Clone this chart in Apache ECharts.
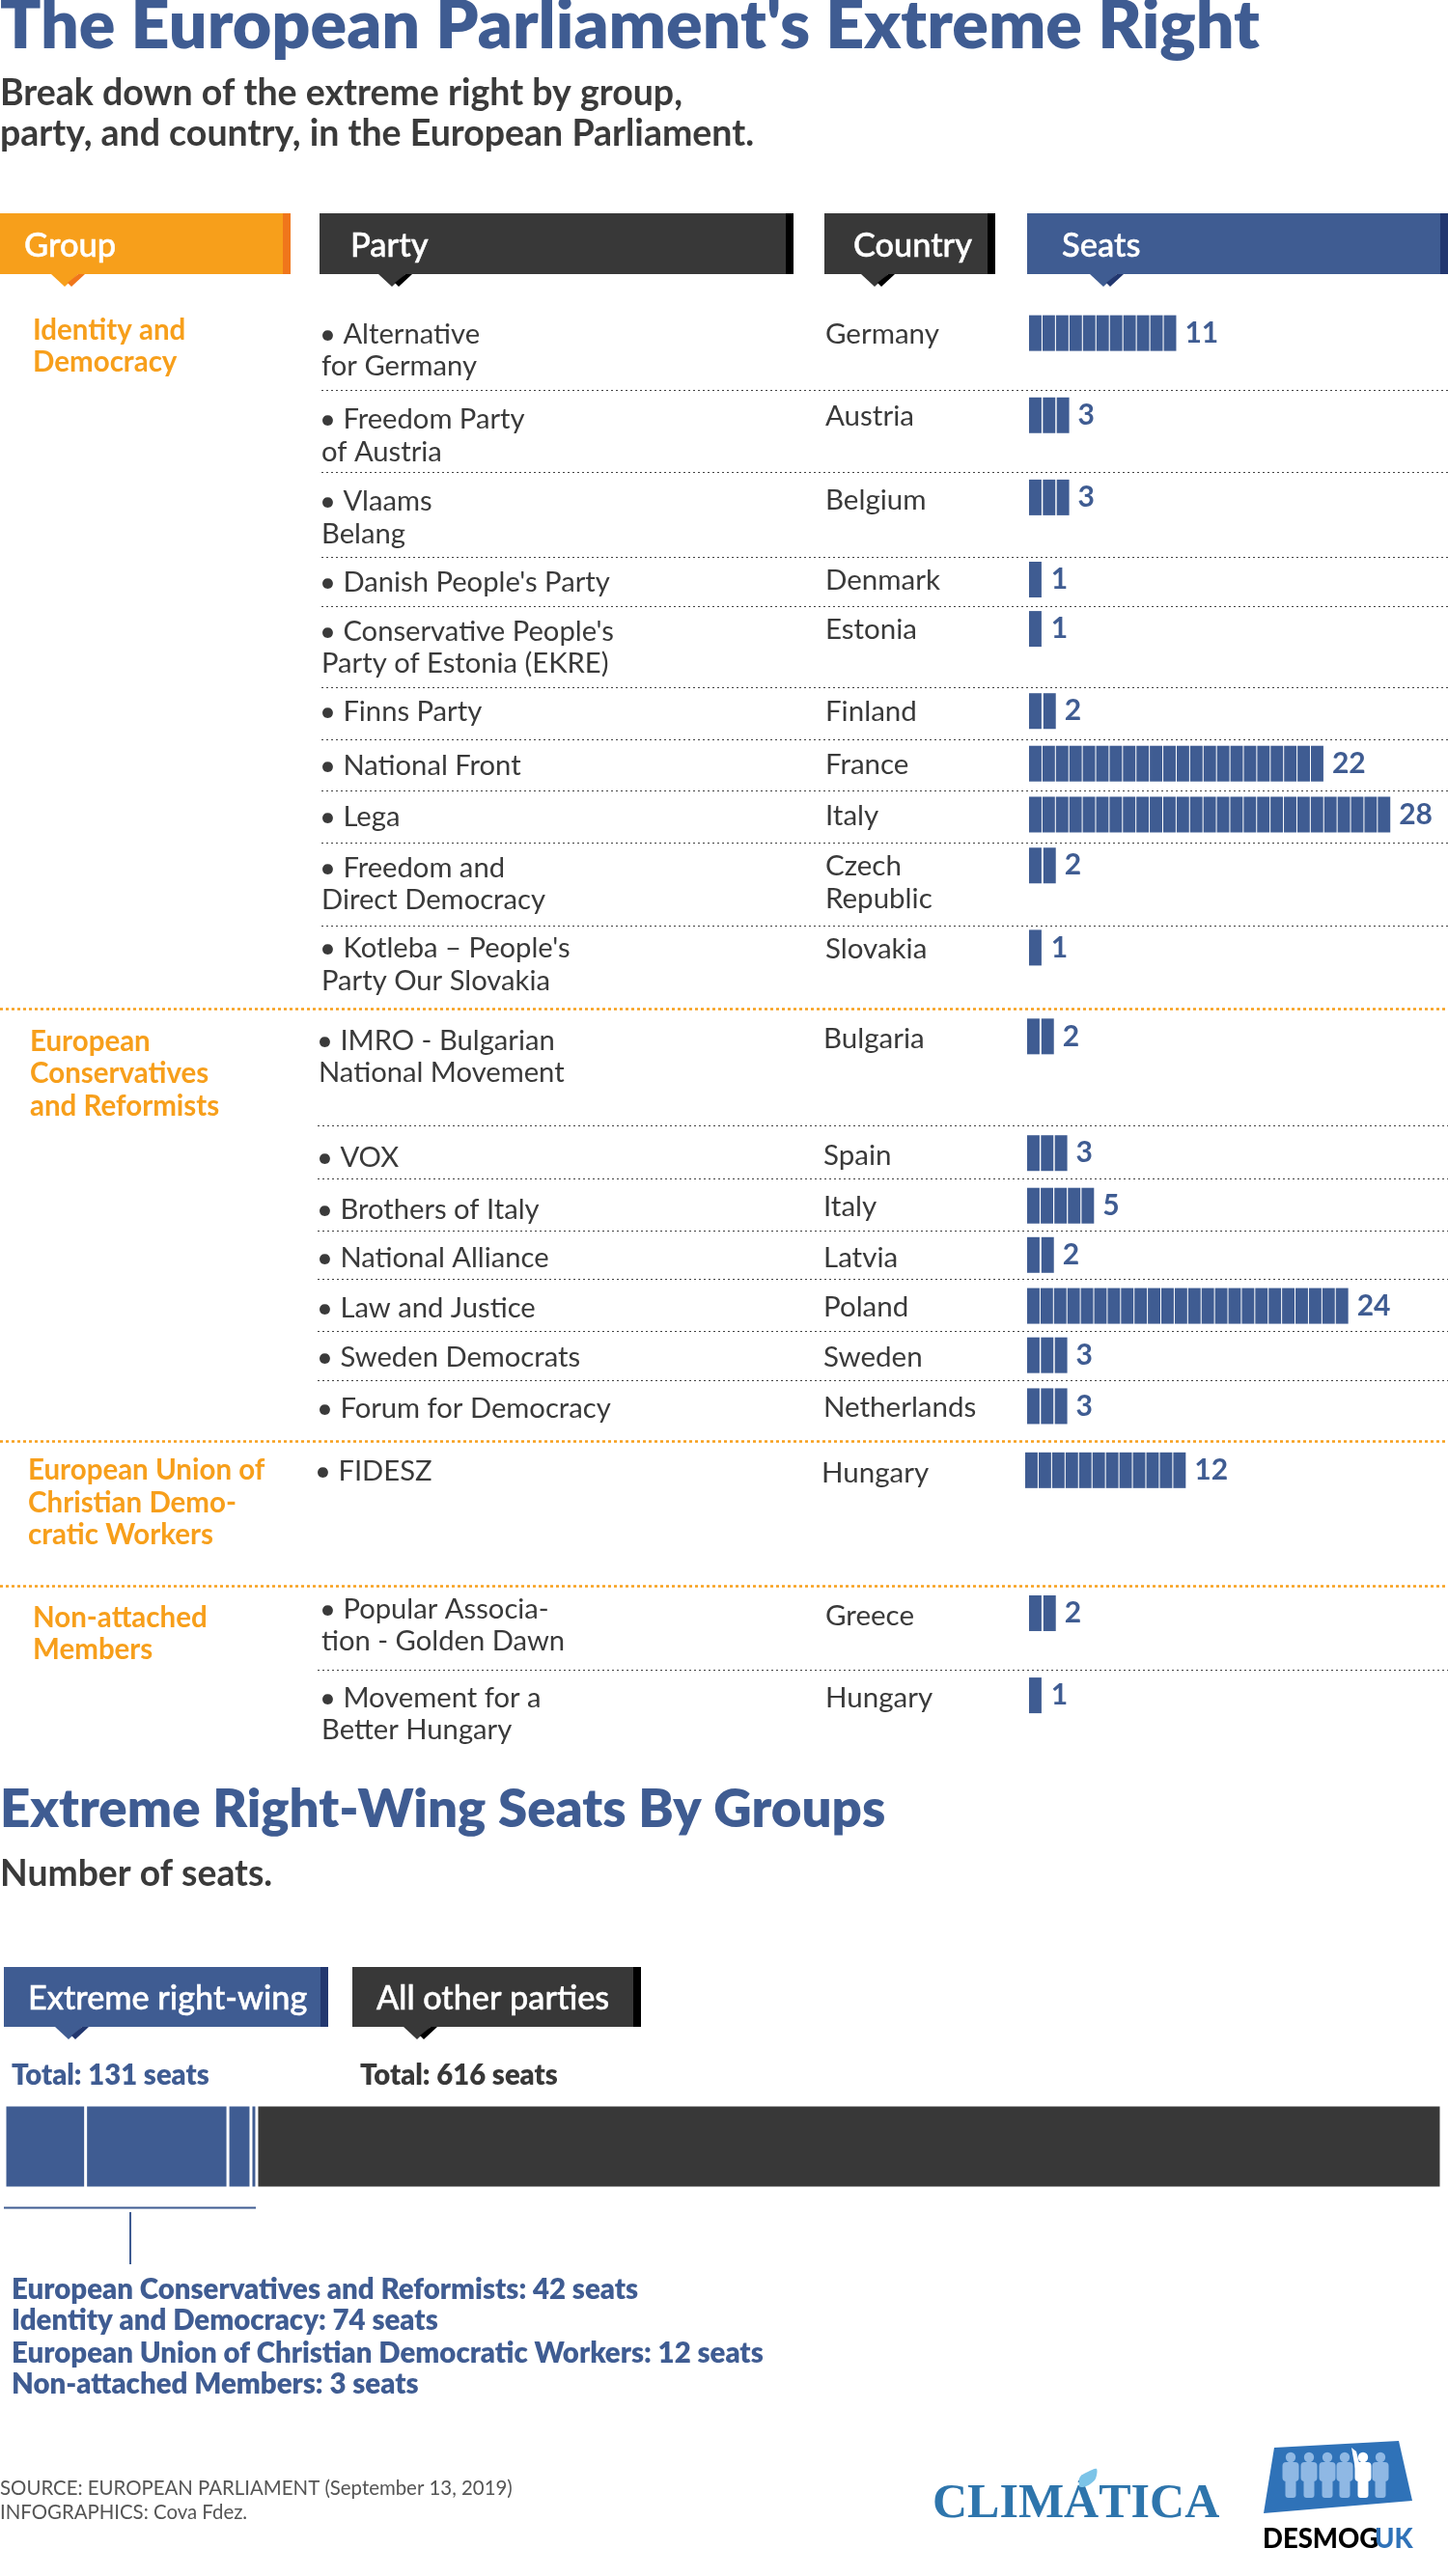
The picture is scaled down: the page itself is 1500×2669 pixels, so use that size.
<!DOCTYPE html>
<html><head><meta charset="utf-8">
<style>html,body{margin:0;padding:0;background:#fff}#c{width:1500px;height:2669px}</style>
<script src="https://cdn.jsdelivr.net/npm/echarts@6/dist/echarts.min.js"></script>
</head><body><div id="c"></div>
<script>
// ---------- data ----------
const groupNames = ['Identity and\nDemocracy','European\nConservatives\nand Reformists','European Union of\nChristian Demo-\ncratic Workers','Non-attached\nMembers'];
const partyNames = ['• Alternative\nfor Germany','• Freedom Party\nof Austria','• Vlaams\nBelang',"• Danish People's Party","• Conservative People's\nParty of Estonia (EKRE)",'• Finns Party','• National Front','• Lega','• Freedom and\nDirect Democracy',"• Kotleba – People's\nParty Our Slovakia",'• IMRO - Bulgarian\nNational Movement','• VOX','• Brothers of Italy','• National Alliance','• Law and Justice','• Sweden Democrats','• Forum for Democracy','• FIDESZ','• Popular Associa-\ntion - Golden Dawn','• Movement for a\nBetter Hungary'];
const countries = ['Germany','Austria','Belgium','Denmark','Estonia','Finland','France','Italy','Czech\nRepublic','Slovakia','Bulgaria','Spain','Italy','Latvia','Poland','Sweden','Netherlands','Hungary','Greece','Hungary'];
const seats = [11,3,3,1,1,2,22,28,2,1,2,3,5,2,24,3,3,12,2,1];
// blocks actually drawn in the source picture (the Lega row shows 27 blocks beside its "28" label)
const blocksDrawn = [11,3,3,1,1,2,22,27,2,1,2,3,5,2,24,3,3,12,2,1];
const groupOf = [0,0,0,0,0,0,0,0,0,0,1,1,1,1,1,1,1,2,3,3];
const stackNames = ['European Conservatives and Reformists','Identity and Democracy','European Union of Christian Democratic Workers','Non-attached Members','All other parties'];
const stackSeats = [42,74,12,3,616];
const headers = ['Group','Party','Country','Seats'];
const titleText = "The European Parliament's Extreme Right";
const subtitleText = 'Break down of the extreme right by group,\nparty, and country, in the European Parliament.';
const section2Title = 'Extreme Right-Wing Seats By Groups';
const section2Sub = 'Number of seats.';
const totals = ['Total: 131 seats','Total: 616 seats'];
const legendHeads = ['Extreme right-wing','All other parties'];
const stackLines = ['European Conservatives and Reformists: 42 seats','Identity and Democracy: 74 seats','European Union of Christian Democratic Workers: 12 seats','Non-attached Members: 3 seats'];
const sourceText = 'SOURCE: EUROPEAN PARLIAMENT (September 13, 2019)\nINFOGRAPHICS: Cova Fdez.';

// ---------- layout (pixels, not data) ----------
const S = 1500/881;
const rowBarY = [202,252,302,352,382,432,464,495,526,576,630,701,733,763,794,824,855,894,981,1031].map(v=>v*S+1.2);
const rowPartyY = [203,255,305,354,384,433,466,497,528,577,633,704,736,765,796,826,857,895,979,1033].map(v=>v*S+.6);
const rowCountryY = [203,253,304,353,383,433,465,496,527,577,632,703,734,765,795,826,856,896,983,1033].map(v=>v*S+.6);
const dividerY = [237,287,339,369,418,450,481,513,563,685,717,749,778,810,840,1016].map(v=>v*S);
const groupLineY = [614,877,965].map(v=>v*S);
const groupX = [{g:34,p:333,c:855,b:1066},{g:31,p:330,c:853,b:1064},{g:29,p:328,c:851,b:1062},{g:34,p:333,c:855,b:1066}];
const groupY = [201,634,895,984.5].map(v=>v*S);
const lineH = 33.5, unitPx = 13.86;
const BLUE='#3F5C92', DBLUE='#22376F', DARK='#383838', ORANGE='#F79F1B', DORANGE='#F0761B', TXT='#3a3a3a';
const FONT='Lato';

const gfx=[];
function txt(x,y,t,size,fill,weight,embolden){
  gfx.push({type:'text',x,y,silent:true,style:{x:0,y:0,text:t,fill,fontFamily:FONT,fontSize:size,fontWeight:weight||400,verticalAlign:'middle',textAlign:'left',
    stroke:embolden?fill:undefined,lineWidth:embolden||0}});
}
function poly(points,fill,smooth){gfx.push({type:'polygon',silent:true,shape:{points,smooth:smooth||0},style:{fill}});}
function rect(x,y,w,h,fill,r){gfx.push({type:'rect',silent:true,shape:{x,y,width:w,height:h,r:r||0},style:{fill}});}
function line(x1,y1,x2,y2,stroke,lw,dash){gfx.push({type:'line',silent:true,shape:{x1,y1,x2,y2},style:{stroke,lineWidth:lw,lineDash:dash||null}});}
function headerBox(x0,x1,y0,y1,arrowX,c,dc,label,tx,fs){
  rect(x0,y0,x1-x0,y1-y0,c);
  rect(x1-8,y0,8,y1-y0,dc);
  poly([[arrowX,y1],[arrowX+28,y1],[arrowX+14,y1+13]],c);
  poly([[arrowX+28,y1],[arrowX+35,y1],[arrowX+21,y1+13],[arrowX+17,y1+9]],dc);
  txt(tx,(y0+y1)/2+2,label,fs,'#fff',500,0.5);
}

// titles
txt(0,27,titleText,69.9,BLUE,800);
txt(0,96.5,subtitleText.split('\n')[0],37.5,TXT,700);
txt(0,138.5,subtitleText.split('\n')[1],37.5,TXT,700);

// table headers
headerBox(0,301,221,284,53,ORANGE,DORANGE,headers[0],25,34.5);
headerBox(331,822,221,284,392,DARK,'#000',headers[1],363,34.5);
headerBox(854,1031,221,284,892,DARK,'#000',headers[2],884,34.3);
headerBox(1064,1500,221,284,1129,BLUE,DBLUE,headers[3],1100,34.5);

// rows
dividerY.forEach((y,i)=>line(i>8?329:333,Math.round(y)+.5,1500,Math.round(y)+.5,'#444',1,[2,3]));
groupLineY.forEach(y=>line(0,Math.round(y)+.5,1500,Math.round(y)+.5,ORANGE,2.5,[3,3]));
groupNames.forEach((n,i)=>n.split('\n').forEach((l,j)=>txt(groupX[i].g,groupY[i]+j*lineH,l,29.5,ORANGE,700)));
partyNames.forEach((n,i)=>n.split('\n').forEach((l,j)=>txt(groupX[groupOf[i]].p-(j===0?2:0),rowPartyY[i]+j*lineH,l,29.2,TXT,400)));
countries.forEach((n,i)=>n.split('\n').forEach((l,j)=>txt(groupX[groupOf[i]].c,rowCountryY[i]+j*lineH,l,29.5,TXT,400)));

// section 2
txt(0,1875,section2Title,54.6,BLUE,800);
txt(0,1942,section2Sub,37.3,TXT,700);
headerBox(4,340,2038,2100,57,BLUE,DBLUE,legendHeads[0],29,34.2);
headerBox(365,664,2038,2100,418,DARK,'#000',legendHeads[1],390,34.2);
txt(12,2151,totals[0],29.2,BLUE,800);
txt(373,2151,totals[1],29.2,DARK,800);
line(4,2287.5,265,2287.5,BLUE,2);
line(135,2292,135,2346,BLUE,2);
stackLines.forEach((l,i)=>txt(12,[2372.5,2404.5,2438.5,2470.5][i],l,29.4,BLUE,800));

// footer
sourceText.split('\n').forEach((l,i)=>txt(0,[2578,2603][i],l,20.4,'#555',400));

// Climatica logo
gfx.push({type:'text',x:966,y:2595,silent:true,style:{text:'CLIMÁTICA',fill:'#2E75AC',fontFamily:'Liberation Serif',fontSize:50,fontWeight:700,verticalAlign:'middle',textAlign:'left'}});
poly([[1118,2576],[1119,2566],[1127,2561],[1136,2558],[1135,2568],[1129,2574],[1122,2577]],'#7CC4E8',0.3);

// Desmog logo
poly([[1320,2536],[1449,2529],[1463,2591],[1309,2604]],'#2F72B8');
[1337,1356,1375,1393,1412,1430].forEach((x,i)=>{
  const c=i===4?'#fff':'#8FB8E4';
  gfx.push({type:'circle',silent:true,shape:{cx:x,cy:2546,r:5.2},style:{fill:c}});
  rect(x-8.5,2551,17,20,c,4);
  rect(x-5.5,2565,11,23,c,3);
});
poly([[1400,2536],[1405,2540],[1409,2556],[1404,2558]],'#fff');
txt(1308,2631,'DESMOG',27.5,'#000',900);
txt(1424,2631,'UK',27.5,'#2F72B8',900);

// ---------- charts ----------
const grids=[],xAxes=[],yAxes=[],series=[];
seats.forEach((v,i)=>{
  const g=groupX[groupOf[i]];
  grids.push({left:g.b,top:rowBarY[i]-18.5,width:unitPx*28,height:37});
  xAxes.push({type:'value',gridIndex:i,min:0,max:28,show:false});
  yAxes.push({type:'category',gridIndex:i,data:[partyNames[i].replace('\n',' ')],show:false});
  series.push({type:'pictorialBar',xAxisIndex:i,yAxisIndex:i,name:countries[i],silent:true,
    symbol:'rect',symbolRepeat:blocksDrawn[i],symbolBoundingData:blocksDrawn[i],symbolSize:[12.9,37],symbolMargin:0.45,symbolPosition:'start',
    itemStyle:{color:BLUE},data:[v],
    label:{show:true,position:'right',distance:9-unitPx*(v-blocksDrawn[i]),color:BLUE,fontFamily:FONT,fontWeight:700,fontSize:30,formatter:'{c}'}});
});
const sIdx=grids.length;
grids.push({left:5,top:2181,width:1488,height:86});
xAxes.push({type:'value',gridIndex:sIdx,min:0,max:stackSeats.reduce((a,b)=>a+b,0),show:false});
yAxes.push({type:'category',gridIndex:sIdx,data:['Seats'],show:false});
stackNames.forEach((n,i)=>series.push({type:'bar',xAxisIndex:sIdx,yAxisIndex:sIdx,stack:'all',name:n,silent:true,barWidth:86,
  itemStyle:{color:i===4?DARK:BLUE,borderColor:'#fff',borderWidth:1.5},data:[stackSeats[i]]}));

const chart=echarts.init(document.getElementById('c'),null,{renderer:'canvas',devicePixelRatio:1});
chart.setOption({animation:false,backgroundColor:'#fff',tooltip:{show:false},grid:grids,xAxis:xAxes,yAxis:yAxes,series,graphic:{elements:gfx}});
</script></body></html>
